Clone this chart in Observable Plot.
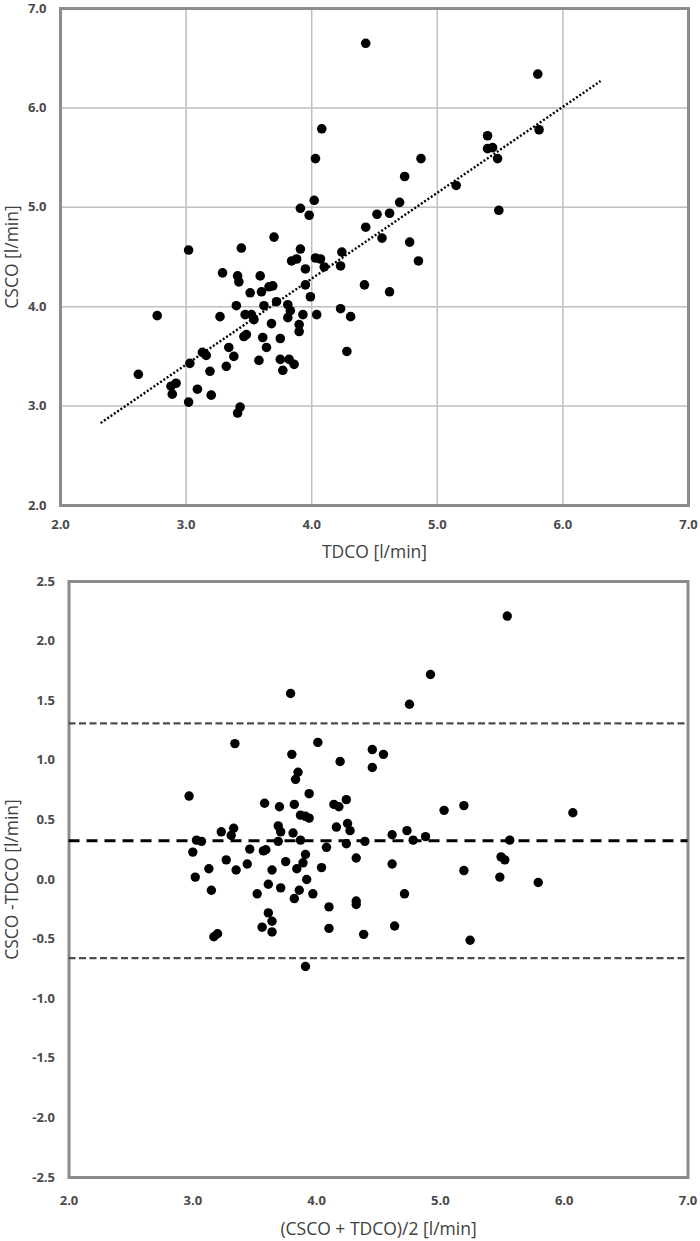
<!DOCTYPE html>
<html><head><meta charset="utf-8">
<script src="https://cdn.jsdelivr.net/npm/d3@7"></script>
<script src="https://cdn.jsdelivr.net/npm/@observablehq/plot@0.6"></script>
<style>body{margin:0;background:#fff;} #chart svg{display:block;}</style>
</head><body><div id="chart"></div>
<script>
// ---- Top panel: CSCO vs TDCO ----
const tdco = [4.43,5.80,4.08,5.40,5.40,5.44,5.48,5.81,4.03,4.87,4.74,5.15,4.02,4.70,3.91,5.49,3.98,4.52,4.62,4.43,
  4.56,3.70,4.78,3.02,3.44,3.91,4.24,3.84,3.88,4.03,4.07,4.85,4.10,4.23,3.95,3.29,3.41,3.59,3.42,4.42,
  3.95,3.66,3.69,3.51,3.60,4.62,3.99,3.72,3.40,3.62,3.81,3.83,4.23,2.77,3.27,3.47,3.52,3.54,3.81,3.93,
  4.04,4.31,3.68,3.90,3.90,3.46,3.48,3.61,3.75,3.64,3.34,4.28,3.13,3.16,3.38,3.58,3.75,3.82,3.86,3.03,
  3.32,3.19,3.77,2.62,2.88,2.92,3.09,2.89,3.20,3.02,3.43,3.41];
const csco = [6.65,6.34,5.79,5.72,5.59,5.60,5.49,5.78,5.49,5.49,5.31,5.22,5.07,5.05,4.99,4.97,4.92,4.93,4.94,4.80,
  4.69,4.70,4.65,4.57,4.59,4.58,4.55,4.46,4.48,4.49,4.48,4.46,4.40,4.41,4.38,4.34,4.31,4.31,4.25,4.22,
  4.22,4.20,4.21,4.14,4.15,4.15,4.10,4.05,4.01,4.01,4.02,3.96,3.98,3.91,3.90,3.92,3.92,3.87,3.89,3.92,
  3.92,3.90,3.83,3.82,3.75,3.70,3.72,3.69,3.68,3.59,3.59,3.55,3.54,3.51,3.50,3.46,3.47,3.47,3.42,3.43,
  3.40,3.35,3.36,3.32,3.20,3.23,3.17,3.12,3.11,3.04,2.99,2.93];
const trendX = [2.32, 6.30];
const trendY = [2.83, 6.27];
const topTicks = [2, 3, 4, 5, 6, 7];
const topXTitle = "TDCO [l/min]";
const topYTitle = "CSCO [l/min]";

// ---- Bottom panel: Bland-Altman ----
const meanCO = [5.54,4.92,3.79,4.75,3.34,4.01,3.80,4.45,4.45,4.54,4.19,3.85,3.83,2.97,3.94,
  3.58,3.70,3.82,4.14,4.18,4.24,3.87,3.91,3.94,4.16,4.25,4.27,3.69,3.71,3.81,3.33,3.31,3.23,3.03,3.07,
  3.69,3.87,4.08,4.24,4.39,3.46,3.57,3.59,3.00,3.91,3.27,3.75,4.32,3.44,3.89,3.84,3.13,3.35,3.64,4.04,
  3.02,3.92,3.15,3.61,3.71,3.86,3.82,3.52,3.97,4.10,4.32,4.32,3.61,3.64,3.56,3.64,4.10,3.17,3.20,4.38,
  5.03,5.19,6.07,4.61,4.73,4.78,4.88,5.56,4.61,5.49,5.52,5.19,5.48,5.79,4.71,4.63,5.24,3.91];
const diffCO = [2.21,1.72,1.56,1.47,1.14,1.15,1.05,1.09,0.94,1.05,0.99,0.90,0.84,0.70,0.72,
  0.64,0.61,0.63,0.63,0.61,0.67,0.54,0.53,0.515,0.44,0.47,0.41,0.45,0.40,0.39,0.43,0.37,0.40,0.33,0.32,
  0.32,0.33,0.27,0.30,0.32,0.255,0.24,0.25,0.23,0.21,0.165,0.15,0.18,0.13,0.14,0.09,0.09,0.08,0.08,0.10,
  0.02,0.00,-0.09,-0.04,-0.07,-0.09,-0.16,-0.12,-0.12,-0.23,-0.18,-0.21,-0.28,-0.35,-0.40,-0.44,-0.41,-0.48,-0.455,-0.46,
  0.58,0.62,0.56,0.375,0.41,0.33,0.36,0.33,0.13,0.19,0.165,0.075,0.02,-0.025,-0.12,-0.39,-0.51,-0.73];
const meanDiff = 0.325;
const upperLoA = 1.31;
const lowerLoA = -0.66;
const botXTicks = [2, 3, 4, 5, 6, 7];
const botYTicks = [-2.5, -2, -1.5, -1, -0.5, 0, 0.5, 1, 1.5, 2, 2.5];
const botXTitle = "(CSCO + TDCO)/2 [l/min]";
const botYTitle = "CSCO -TDCO [l/min]";

const fmt = d => d.toFixed(1);
const font = "'Open Sans', 'DejaVu Sans', sans-serif";
const tickStyle = {tickSize: 0, tickFormat: fmt, fontSize: 13, fontWeight: "bold", fill: "#4a4a4a", label: null};
const titleStyle = {text: d => d, fontSize: 17.5, fill: "#404040", textAnchor: "middle", lineAnchor: "middle"};

const topData = tdco.map((x, i) => ({x, y: csco[i]}));
const trendData = trendX.map((x, i) => ({x, y: trendY[i]}));

const topPlot = Plot.plot({
  width: 700, height: 570,
  marginTop: 8, marginBottom: 65, marginLeft: 60, marginRight: 12,
  style: {fontFamily: font, background: "#fff"},
  x: {domain: [2, 7]}, y: {domain: [2, 7]},
  marks: [
    Plot.gridX(topTicks, {stroke: "#bfbfbf", strokeOpacity: 1, strokeWidth: 1.5}),
    Plot.gridY(topTicks, {stroke: "#bfbfbf", strokeOpacity: 1, strokeWidth: 1.5}),
    Plot.frame({stroke: "#8c8c8c", strokeWidth: 3}),
    Plot.axisX(topTicks, {...tickStyle, tickPadding: 14}),
    Plot.axisY(topTicks, {...tickStyle, tickPadding: 14}),
    Plot.line(trendData, {x: "x", y: "y", stroke: "#000", strokeWidth: 2.4, strokeLinecap: "butt", strokeDasharray: "2,2"}),
    Plot.dot(topData, {x: "x", y: "y", r: 4.8, fill: "#000", stroke: null}),
    Plot.text([topXTitle], {...titleStyle, frameAnchor: "bottom", dy: 47}),
    Plot.text([topYTitle], {...titleStyle, frameAnchor: "left", dx: -48, rotate: -90})
  ]
});

const botData = meanCO.map((x, i) => ({x, y: diffCO[i]}));

const botPlot = Plot.plot({
  width: 700, height: 671,
  marginTop: 11, marginBottom: 64, marginLeft: 68.5, marginRight: 12.5,
  style: {fontFamily: font, background: "#fff"},
  x: {domain: [2, 7]}, y: {domain: [-2.5, 2.5]},
  marks: [
    Plot.frame({stroke: "#8c8c8c", strokeWidth: 3}),
    Plot.axisX(botXTicks, {...tickStyle, tickPadding: 18}),
    Plot.axisY(botYTicks, {...tickStyle, tickPadding: 14}),
    Plot.ruleY([upperLoA, lowerLoA], {stroke: "#4d4d4d", strokeWidth: 2.3, strokeDasharray: "7,3.5"}),
    Plot.ruleY([meanDiff], {stroke: "#000", strokeWidth: 3, strokeDasharray: "11,7"}),
    Plot.dot(botData, {x: "x", y: "y", r: 4.7, fill: "#000", stroke: null}),
    Plot.text([botXTitle], {...titleStyle, frameAnchor: "bottom", dy: 52}),
    Plot.text([botYTitle], {...titleStyle, frameAnchor: "left", dx: -56.5, rotate: -90})
  ]
});

document.getElementById("chart").append(topPlot, botPlot);
</script>
</body></html>
